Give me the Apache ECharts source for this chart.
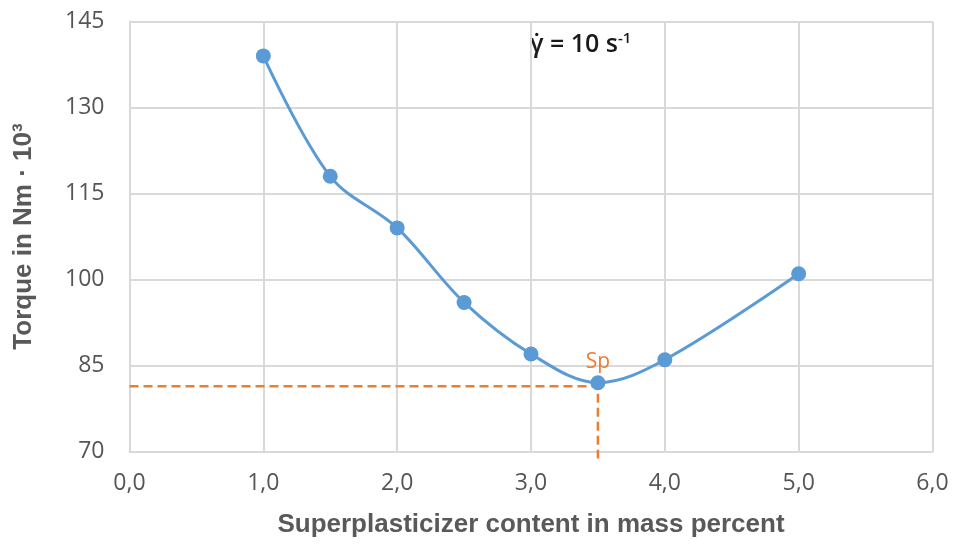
<!DOCTYPE html>
<html>
<head>
<meta charset="utf-8">
<script src="https://cdn.jsdelivr.net/npm/echarts@6/dist/echarts.min.js"></script>
<style>
  html, body { margin: 0; padding: 0; background: #fff; }
  #chart { width: 957px; height: 545px; }
</style>
</head>
<body>
<div id="chart"></div>
<script>
// Messwerte
var contents = [1.0, 1.5, 2.0, 2.5, 3.0, 3.5, 4.0, 5.0]
var torques = [139, 118, 109, 96, 87, 82, 86, 101]
// Saettigungspunkt Sp
var spX = 3.5
var spY = 81.4
var yTicks = [70, 85, 100, 115, 130, 145]

var points = []
for (var i = 0; i < contents.length; i++) {
  var item = { value: [contents[i], torques[i]] }
  if (contents[i] === spX) {
    item.label = {
      show: true,
      position: 'top',
      distance: 3,
      formatter: '{s|Sp}',
      rich: {
        s: { fontSize: 21, color: '#ED7D31', fontFamily: 'Open Sans' }
      }
    }
  }
  points.push(item)
}

var myChart = echarts.init(document.getElementById('chart'))
var option = {
  animation: false,
  grid: { left: 129.5, right: 24.5, top: 21.5, bottom: 93.5 },
  xAxis: {
    type: 'value',
    min: 0,
    max: 6,
    interval: 1,
    name: 'Superplasticizer content in mass percent',
    nameLocation: 'middle',
    nameGap: 60,
    nameTextStyle: { fontSize: 26, fontWeight: 'bold', color: '#595959', fontFamily: 'Liberation Sans' },
    axisLine: { lineStyle: { color: '#d9d9d9', width: 2 } },
    axisTick: { show: false },
    axisLabel: {
      margin: 20,
      fontSize: 23,
      color: '#555555',
      fontFamily: 'Open Sans',
      formatter: function (v) { return v.toFixed(1).replace('.', ',') }
    },
    splitLine: { show: true, lineStyle: { color: '#d9d9d9', width: 2 } }
  },
  yAxis: {
    type: 'value',
    min: yTicks[0],
    max: yTicks[yTicks.length - 1],
    interval: 15,
    name: 'Torque in Nm · 10³',
    nameLocation: 'middle',
    nameGap: 93,
    nameTextStyle: { fontSize: 26, fontWeight: 'bold', color: '#595959', fontFamily: 'Liberation Sans' },
    axisLine: { show: true, lineStyle: { color: '#d9d9d9', width: 2 } },
    axisTick: { show: false },
    axisLabel: { margin: 25, fontSize: 23, color: '#555555', fontFamily: 'Open Sans' },
    splitLine: { lineStyle: { color: '#d9d9d9', width: 2 } }
  },
  graphic: [{
    type: 'text',
    left: 530,
    top: 31,
    style: {
      text: '{a|γ̇ = 10 s}{b|-1}',
      rich: {
        a: { fontSize: 25, fontWeight: 600, fill: '#1a1a1a', fontFamily: 'Open Sans' },
        b: { fontSize: 15, fontWeight: 600, fill: '#1a1a1a', fontFamily: 'Open Sans', padding: [0, 0, 12, 0] }
      }
    }
  }],
  series: [
    {
      type: 'line',
      data: [[0, spY], [spX, spY], [spX, 68.8]],
      clip: false,
      symbol: 'none',
      silent: true,
      z: 1,
      lineStyle: { color: '#ED7D31', width: 2.5, type: [9, 5] }
    },
    {
      type: 'line',
      data: points,
      smooth: 0.35,
      symbol: 'circle',
      symbolSize: 15,
      z: 3,
      itemStyle: { color: '#5B9BD5' },
      lineStyle: { color: '#5B9BD5', width: 3 }
    }
  ]
}
myChart.setOption(option)
</script>
</body>
</html>
